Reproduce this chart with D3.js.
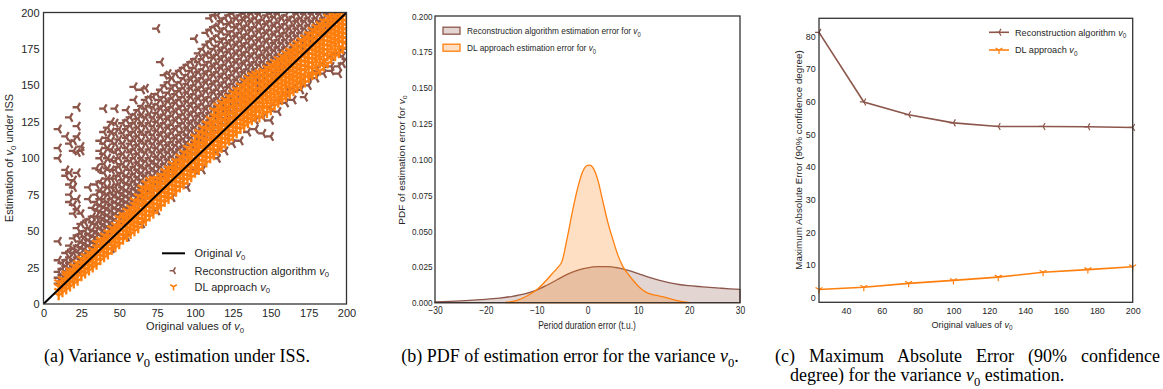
<!DOCTYPE html>
<html>
<head>
<meta charset="utf-8">
<script src="https://cdn.jsdelivr.net/npm/d3@7"></script>
<style>
  body { margin: 0; background: #fff; }
  svg { display: block; }
  text { font-family: "Liberation Sans", Arial, Helvetica, sans-serif; }
</style>
</head>
<body>
<svg id="chart" width="1163" height="389"></svg>
<script>
// ---- data ----

// (a) scatter, grouped by original v0 column: [x, [estimates...]]
const reconCols = [
  [10, [14, 18, 22, 30, 43, 100, 107, 120]],
  [12.5, [16, 20, 24, 28]],
  [15, [18, 22, 26, 30, 35, 88, 92, 115]],
  [17.5, [20, 24, 28, 32, 36, 40, 70, 75, 82, 90, 110, 128]],
  [20, [22, 26, 30, 35, 38, 45, 62, 68, 80, 85, 105, 112]],
  [22.5, [24, 28, 32, 36, 40, 47, 52, 65, 72, 90, 104, 115, 122, 135]],
  [25, [27, 31, 35, 39, 43, 48, 55, 62, 105, 108]],
  [27.5, [30, 34, 38, 42, 46, 50, 56]],
  [30, [32, 36, 40, 44, 48, 52, 58, 72, 80]],
  [32.5, [35, 39, 43, 47, 51, 56, 60, 66]],
  [35, [38, 42, 46, 50, 55, 60, 65, 70, 75, 82, 93]],
  [37.5, [40, 44, 48, 52, 56, 60, 64, 68, 72, 78, 84, 92, 100, 105, 112]],
  [40, [43, 47, 51, 55, 59, 63, 67, 72, 77, 83, 90, 96, 103, 110, 118, 134]],
  [42.5, [45, 49, 53, 57, 61, 66, 70, 75, 80, 86, 93, 100, 107, 114, 121]],
  [45, [38, 48, 52, 56, 60, 64, 68, 72, 76, 80, 86, 92, 99, 106, 112, 118, 125]],
  [47.5, [50, 54, 58, 62, 66, 70, 75, 80, 86, 92, 98, 104, 110, 117, 124, 134]],
  [50, [53, 57, 61, 65, 69, 73, 77, 82, 88, 94, 100, 106, 113, 120]],
  [52.5, [56, 60, 64, 68, 72, 76, 80, 85, 90, 96, 103, 110, 117, 124]],
  [55, [46, 58, 62, 66, 70, 74, 78, 83, 88, 94, 100, 107, 114, 120, 126, 133]],
  [57.5, [61, 65, 69, 73, 77, 82, 87, 92, 98, 104, 110, 116, 122, 128]],
  [60, [63, 67, 71, 75, 79, 84, 89, 94, 100, 106, 112, 118, 124, 130, 140, 149]],
  [62.5, [66, 70, 74, 78, 82, 87, 92, 97, 103, 109, 115, 121, 127, 133]],
  [65, [55, 68, 72, 76, 80, 85, 90, 95, 100, 106, 112, 118, 124, 130, 136, 147]],
  [67.5, [71, 75, 79, 83, 88, 93, 98, 104, 110, 116, 122, 128, 134, 140, 148]],
  [70, [73, 77, 81, 85, 90, 95, 100, 106, 112, 118, 124, 130, 136, 142]],
  [72.5, [76, 80, 84, 88, 93, 98, 104, 110, 116, 122, 128, 135, 142]],
  [75, [64, 78, 82, 86, 91, 96, 101, 107, 113, 119, 125, 131, 137, 144, 189]],
  [77.5, [81, 85, 89, 94, 99, 104, 110, 116, 122, 128, 134, 140, 147, 166]],
  [80, [83, 87, 91, 96, 101, 106, 112, 118, 124, 130, 136, 142, 150, 157]],
  [82.5, [86, 90, 94, 99, 104, 109, 115, 121, 127, 133, 139, 145, 152, 158]],
  [85, [73, 88, 92, 96, 101, 106, 111, 117, 123, 129, 135, 141, 148, 155]],
  [87.5, [91, 95, 99, 104, 109, 114, 120, 126, 132, 138, 144, 150, 158]],
  [90, [93, 97, 101, 106, 111, 116, 122, 128, 134, 140, 146, 152, 160]],
  [92.5, [96, 100, 104, 108, 113, 118, 124, 130, 136, 142, 148, 155, 162]],
  [95, [80, 98, 102, 106, 111, 116, 121, 127, 133, 139, 145, 151, 157, 164]],
  [97.5, [101, 105, 109, 114, 119, 124, 130, 136, 142, 148, 154, 160, 166]],
  [100, [92, 103, 107, 111, 116, 121, 126, 132, 138, 144, 150, 156, 162, 168, 182]],
  [102.5, [106, 110, 114, 119, 124, 129, 135, 141, 147, 153, 159, 166, 172]],
  [105, [92, 108, 112, 116, 121, 126, 131, 137, 143, 149, 155, 161, 168, 175]],
  [107.5, [111, 115, 119, 124, 129, 134, 140, 146, 152, 158, 164, 171, 178, 186]],
  [110, [113, 117, 121, 126, 131, 136, 142, 148, 154, 160, 166, 172, 180, 188, 196]],
  [112.5, [116, 120, 124, 129, 134, 139, 145, 151, 157, 163, 169, 175, 182, 190, 198]],
  [115, [100, 104, 118, 122, 126, 131, 136, 141, 147, 153, 159, 165, 171, 177, 184, 191, 198]],
  [117.5, [121, 125, 129, 134, 139, 144, 150, 156, 162, 168, 174, 180, 187, 194]],
  [120, [105, 123, 127, 131, 136, 141, 146, 152, 158, 164, 170, 176, 182, 189, 196]],
  [122.5, [126, 130, 134, 139, 144, 149, 155, 161, 167, 173, 179, 185, 192, 198]],
  [125, [110, 128, 132, 136, 141, 146, 151, 157, 163, 169, 175, 181, 187, 193, 199]],
  [127.5, [131, 135, 139, 144, 149, 154, 160, 166, 172, 178, 184, 190, 196]],
  [130, [112, 133, 137, 141, 146, 151, 156, 162, 168, 174, 180, 186, 192, 198]],
  [132.5, [136, 140, 144, 149, 154, 159, 165, 171, 177, 183, 189, 195, 199]],
  [135, [118, 138, 142, 146, 151, 156, 161, 167, 173, 179, 185, 191, 197]],
  [137.5, [141, 145, 149, 154, 159, 164, 170, 176, 182, 188, 194, 199]],
  [140, [120, 126, 143, 147, 151, 156, 161, 166, 172, 178, 184, 190, 196]],
  [142.5, [146, 150, 154, 159, 164, 169, 175, 181, 187, 193, 199]],
  [145, [117, 128, 148, 152, 156, 161, 166, 171, 177, 183, 189, 195]],
  [147.5, [151, 155, 159, 164, 169, 174, 180, 186, 192, 198]],
  [150, [115, 126, 135, 153, 157, 161, 166, 171, 176, 182, 188, 194, 199]],
  [152.5, [156, 160, 164, 169, 174, 179, 185, 191, 197]],
  [155, [132, 140, 158, 162, 166, 171, 176, 181, 187, 193, 199]],
  [157.5, [161, 165, 169, 174, 179, 184, 190, 196]],
  [160, [138, 145, 163, 167, 171, 176, 181, 186, 192, 198]],
  [162.5, [166, 170, 174, 179, 184, 189, 195]],
  [165, [140, 148, 168, 172, 176, 181, 186, 191, 197]],
  [167.5, [171, 175, 179, 184, 189, 194, 199]],
  [170, [147, 152, 173, 177, 181, 186, 191, 196]],
  [172.5, [142, 176, 180, 184, 189, 194, 199]],
  [175, [150, 156, 178, 182, 186, 191, 196]],
  [177.5, [181, 185, 189, 194, 199]],
  [180, [155, 160, 183, 187, 191, 196]],
  [182.5, [186, 190, 194, 199]],
  [185, [158, 165, 188, 192, 196]],
  [187.5, [191, 195, 199]],
  [190, [160, 163, 170, 193, 197]],
  [192.5, [196, 199]],
  [195, [158, 163, 172, 198]],
  [197.5, [165, 170]],
  [200, [168, 175]]
];

const dlCols = [
  [10, [6, 9, 12, 15]],
  [12.5, [8, 11, 14, 17]],
  [15, [10, 13, 16, 19, 21]],
  [17.5, [12, 15, 18, 21, 23]],
  [20, [14, 17, 20, 23, 26]],
  [22.5, [16, 19, 22, 25, 28]],
  [25, [19, 22, 25, 28, 31]],
  [27.5, [21, 24, 27, 30, 33]],
  [30, [23, 26, 29, 32, 35]],
  [32.5, [25, 28, 31, 34, 37]],
  [35, [27, 30, 33, 36, 39, 42]],
  [37.5, [30, 33, 36, 39, 42, 44]],
  [40, [32, 35, 38, 41, 44, 47]],
  [42.5, [34, 37, 40, 43, 46, 49]],
  [45, [37, 40, 43, 46, 49, 52]],
  [47.5, [39, 42, 45, 48, 51, 54]],
  [50, [41, 44, 47, 50, 53, 56, 59]],
  [52.5, [44, 47, 50, 53, 56, 59, 61]],
  [55, [46, 49, 52, 55, 58, 61, 64]],
  [57.5, [48, 51, 54, 57, 60, 63, 66]],
  [60, [50, 53, 56, 59, 62, 65, 68, 71]],
  [62.5, [52, 55, 58, 61, 64, 67, 70, 74]],
  [65, [55, 58, 61, 64, 67, 70, 73, 77, 80]],
  [67.5, [57, 60, 63, 66, 69, 72, 75, 79, 83]],
  [70, [60, 63, 66, 69, 72, 75, 78, 81, 85]],
  [72.5, [62, 65, 68, 71, 74, 77, 80, 83, 86]],
  [75, [65, 68, 71, 74, 77, 80, 83, 86]],
  [77.5, [67, 70, 73, 76, 79, 82, 85, 88]],
  [80, [70, 73, 76, 79, 82, 85, 88, 91]],
  [82.5, [72, 75, 78, 81, 84, 87, 90, 93]],
  [85, [75, 78, 81, 84, 87, 90, 93, 96]],
  [87.5, [77, 80, 83, 86, 89, 92, 95, 98]],
  [90, [80, 83, 86, 89, 92, 95, 98, 101]],
  [92.5, [82, 85, 88, 91, 94, 97, 100, 104]],
  [95, [85, 88, 91, 94, 97, 100, 103, 107]],
  [97.5, [87, 90, 93, 96, 99, 102, 105, 109]],
  [100, [90, 93, 96, 99, 102, 105, 108, 111, 115]],
  [102.5, [92, 95, 98, 101, 104, 107, 110, 114, 118]],
  [105, [95, 98, 101, 104, 107, 110, 113, 117, 121]],
  [107.5, [97, 100, 103, 106, 109, 112, 116, 120, 124]],
  [110, [100, 103, 106, 109, 112, 115, 119, 123, 127]],
  [112.5, [102, 105, 108, 111, 114, 117, 121, 125, 129, 133]],
  [115, [105, 108, 111, 114, 117, 120, 124, 128, 132, 136]],
  [117.5, [107, 110, 113, 116, 119, 122, 126, 130, 134, 138]],
  [120, [110, 113, 116, 119, 122, 125, 129, 133, 137, 140]],
  [122.5, [112, 115, 118, 121, 124, 127, 131, 135, 139, 142]],
  [125, [115, 118, 121, 124, 127, 130, 134, 138, 142, 145]],
  [127.5, [117, 120, 123, 126, 129, 132, 136, 140, 144, 147]],
  [130, [120, 123, 126, 129, 132, 135, 139, 143, 147, 150]],
  [132.5, [122, 125, 128, 131, 134, 137, 141, 145, 149, 153]],
  [135, [124, 127, 130, 133, 136, 139, 143, 147, 151, 155]],
  [137.5, [126, 129, 132, 135, 138, 141, 145, 149, 153, 157]],
  [140, [128, 131, 134, 137, 140, 143, 147, 151, 155, 158]],
  [142.5, [128, 132, 135, 138, 141, 144, 147, 151, 155, 159]],
  [145, [130, 134, 137, 140, 143, 146, 149, 153, 157, 160]],
  [147.5, [131, 135, 139, 142, 145, 148, 151, 155, 159, 162]],
  [150, [133, 137, 141, 144, 147, 150, 153, 157, 161, 164]],
  [152.5, [136, 139, 143, 146, 149, 152, 155, 159, 163, 166]],
  [155, [138, 141, 145, 148, 151, 154, 157, 161, 165, 168]],
  [157.5, [140, 143, 147, 150, 153, 156, 159, 163, 167, 170]],
  [160, [142, 145, 149, 152, 155, 158, 161, 165, 169, 172]],
  [162.5, [144, 148, 151, 154, 157, 160, 163, 167, 171, 174]],
  [165, [146, 150, 153, 156, 159, 162, 165, 169, 173, 177]],
  [167.5, [148, 152, 155, 158, 161, 164, 167, 171, 175, 179]],
  [170, [150, 154, 157, 160, 163, 166, 169, 173, 177, 181]],
  [172.5, [152, 156, 160, 163, 166, 169, 172, 176, 180, 183]],
  [175, [155, 158, 162, 165, 168, 171, 174, 178, 182, 185]],
  [177.5, [157, 161, 165, 168, 171, 174, 177, 181, 185, 188]],
  [180, [158, 163, 167, 170, 173, 176, 179, 183, 187, 190]],
  [182.5, [160, 165, 169, 172, 175, 178, 181, 185, 189, 192]],
  [185, [163, 167, 171, 174, 177, 180, 183, 187, 191, 194]],
  [187.5, [165, 170, 174, 177, 180, 183, 186, 190, 194, 197]],
  [190, [168, 172, 176, 179, 182, 185, 188, 192, 196, 199]],
  [192.5, [170, 174, 178, 181, 184, 187, 190, 194, 198]],
  [195, [172, 176, 180, 183, 186, 189, 192, 196, 199]],
  [197.5, [175, 179, 182, 185, 188, 191, 194, 197, 200]],
  [200, [178, 182, 185, 188, 191, 194, 197, 200]]
];
const identityX = [0, 200];
const ticksA = [0, 25, 50, 75, 100, 125, 150, 175, 200];

// (b) estimated densities of the error
const kdeReconX = [-30, -27, -24, -21, -18, -15, -12, -10, -8, -6, -4, -2, 0, 2, 4, 6, 8, 10, 12, 14, 16, 18, 20, 22, 24, 26, 28, 30];
const kdeReconY = [0.0006, 0.0009, 0.0014, 0.0021, 0.003, 0.0043, 0.0065, 0.0088, 0.0122, 0.016, 0.0197, 0.0225, 0.0243, 0.0251, 0.0252, 0.0243, 0.0226, 0.0203, 0.0178, 0.0157, 0.014, 0.0127, 0.0119, 0.0113, 0.0107, 0.0102, 0.0097, 0.0093];
const kdeDlX = [-16, -14, -12, -10, -8, -7, -6, -5, -4, -3, -2, -1, 0, 0.5, 1, 2, 3, 4, 5, 6, 7, 8, 9, 10, 11, 12, 13, 14, 15, 16, 17, 18, 19, 20];
const kdeDlY = [0.0003, 0.0015, 0.0045, 0.009, 0.016, 0.02, 0.024, 0.029, 0.045, 0.063, 0.079, 0.091, 0.0958, 0.096, 0.0945, 0.086, 0.071, 0.056, 0.044, 0.033, 0.025, 0.02, 0.0155, 0.0115, 0.0085, 0.0065, 0.0055, 0.0048, 0.004, 0.003, 0.002, 0.0012, 0.0005, 0.0001];
const ticksBx = [-30, -20, -10, 0, 10, 20, 30];
const ticksBy = [0, 0.025, 0.05, 0.075, 0.1, 0.125, 0.15, 0.175, 0.2];

// (c) maximum absolute error
const maeX = [25, 50, 75, 100, 125, 150, 175, 200];
const maeRecon = [81.1, 59.8, 55.9, 53.4, 52.3, 52.3, 52.2, 52.0];
const maeDl = [2.4, 3.1, 4.3, 5.2, 6.2, 7.7, 8.5, 9.4];
const ticksCx = [40, 60, 80, 100, 120, 140, 160, 180, 200];
const ticksCy = [0, 10, 20, 30, 40, 50, 60, 70, 80];

const BROWN = "#8c564b";
const ORANGE = "#ff7f0e";
const TXT = "#262626";

const svg = d3.select("#chart");

// matplotlib tri markers
function triLeft(r) {
  const a = r * 0.5, b = r * 0.866;
  return `M0,0L${-r},0M0,0L${a},${-b}M0,0L${a},${b}`;
}
function triDown(r) {
  const a = r * 0.866, b = r * 0.5;
  return `M0,0L0,${r}M0,0L${-a},${-b}M0,0L${a},${-b}`;
}

// "v0" with italic v and subscript 0
function addV0(t, before, after, fs) {
  t.append("tspan").text(before);
  t.append("tspan").attr("font-style", "italic").text("v");
  t.append("tspan").attr("font-size", fs * 0.7).attr("dy", fs * 0.25).text("0");
  if (after) t.append("tspan").attr("dy", -fs * 0.25).text(after);
}

function frame(g, x, y) {
  g.append("rect")
    .attr("x", x.range()[0]).attr("y", y.range()[1])
    .attr("width", x.range()[1] - x.range()[0])
    .attr("height", y.range()[0] - y.range()[1])
    .attr("fill", "none").attr("stroke", "#333").attr("stroke-width", 1.3);
}

function styleAxis(ax, fs, sx) {
  ax.select(".domain").remove();
  ax.selectAll("text").attr("fill", TXT).style("font-size", fs + "px")
    .style("font-family", '"Liberation Sans", Arial, sans-serif');
  if (sx) ax.selectAll("text").attr("transform", `scale(${sx},1)`);
}

// ================= (a) =================
{
  const x = d3.scaleLinear().domain([0, 200]).range([43.5, 346.5]);
  const y = d3.scaleLinear().domain([0, 200]).range([304, 12.5]);
  const g = svg.append("g");
  svg.append("clipPath").attr("id", "clipA").append("rect")
    .attr("x", 43.5).attr("y", 12.5).attr("width", 303).attr("height", 291.5);
  const pts = g.append("g").attr("clip-path", "url(#clipA)");

  const reconPts = reconCols.flatMap(([cx, ys]) => ys.map(v => [cx, v]));
  const dlPts = dlCols.flatMap(([cx, ys]) => ys.map(v => [cx, v]));

  pts.selectAll("path.rec").data(reconPts).join("path").attr("class", "rec")
    .attr("d", triLeft(5))
    .attr("transform", d => `translate(${x(d[0])},${y(d[1])})`)
    .attr("stroke", BROWN).attr("stroke-width", 2.3).attr("fill", "none");
  pts.selectAll("path.dl").data(dlPts).join("path").attr("class", "dl")
    .attr("d", triDown(5))
    .attr("transform", d => `translate(${x(d[0])},${y(d[1])})`)
    .attr("stroke", ORANGE).attr("stroke-width", 2.3).attr("fill", "none");
  pts.append("line")
    .attr("x1", x(identityX[0])).attr("y1", y(identityX[0]))
    .attr("x2", x(identityX[1])).attr("y2", y(identityX[1]))
    .attr("stroke", "#000").attr("stroke-width", 2);

  frame(g, x, y);
  g.append("g").attr("transform", "translate(0,304)")
    .call(d3.axisBottom(x).tickValues(ticksA).tickSize(0).tickPadding(5))
    .call(ax => styleAxis(ax, 11));
  g.append("g").attr("transform", "translate(43.5,0)")
    .call(d3.axisLeft(y).tickValues(ticksA).tickSize(0).tickPadding(4))
    .call(ax => styleAxis(ax, 11));

  addV0(g.append("text").attr("x", 195).attr("y", 330).attr("text-anchor", "middle")
    .attr("font-size", 11).attr("fill", TXT), "Original values of ", null, 11);
  addV0(g.append("text").attr("transform", "translate(13,158) rotate(-90)").attr("text-anchor", "middle")
    .attr("font-size", 11).attr("fill", TXT), "Estimation of ", " under ISS", 11);

  // legend
  const lg = g.append("g");
  lg.append("line").attr("x1", 162).attr("x2", 185).attr("y1", 253.3).attr("y2", 253.3)
    .attr("stroke", "#000").attr("stroke-width", 2);
  lg.append("path").attr("d", triLeft(3.8)).attr("transform", "translate(173.5,270.7)")
    .attr("stroke", BROWN).attr("stroke-width", 1.6).attr("fill", "none");
  lg.append("path").attr("d", triDown(3.8)).attr("transform", "translate(173.5,286.7)")
    .attr("stroke", ORANGE).attr("stroke-width", 1.6).attr("fill", "none");
  [["Original ", 253.3], ["Reconstruction algorithm ", 270.7], ["DL approach ", 286.7]].forEach(([s, yy]) => {
    addV0(lg.append("text").attr("x", 194.5).attr("y", yy + 4).attr("font-size", 11).attr("fill", TXT), s, null, 11);
  });
}

// ================= (b) =================
{
  const sx = 0.85;
  const x = d3.scaleLinear().domain([-30, 30]).range([435, 740]);
  const y = d3.scaleLinear().domain([0, 0.2]).range([302.7, 16]);
  const g = svg.append("g");
  const area = d3.area().x(d => x(d[0])).y0(y(0)).y1(d => y(d[1])).curve(d3.curveMonotoneX);

  const rec = kdeReconX.map((v, i) => [v, kdeReconY[i]]);
  const dl = kdeDlX.map((v, i) => [v, kdeDlY[i]]);
  g.append("path").attr("d", area(rec)).attr("fill", BROWN).attr("fill-opacity", 0.25)
    .attr("stroke", BROWN).attr("stroke-width", 1.3);
  g.append("path").attr("d", area(dl)).attr("fill", ORANGE).attr("fill-opacity", 0.25)
    .attr("stroke", ORANGE).attr("stroke-width", 1.3);

  frame(g, x, y);
  g.append("g").attr("transform", "translate(0,302.7)")
    .call(d3.axisBottom(x).tickValues(ticksBx).tickSize(0).tickPadding(4))
    .call(ax => styleAxis(ax, 10, sx));
  g.append("g").attr("transform", "translate(435,0)")
    .call(d3.axisLeft(y).tickValues(ticksBy).tickFormat(d3.format(".3f")).tickSize(0).tickPadding(3))
    .call(ax => styleAxis(ax, 9.6, sx));

  g.append("text").attr("transform", `translate(587,328.5) scale(${sx},1)`).attr("text-anchor", "middle")
    .attr("font-size", 10).attr("fill", TXT).text("Period duration error (t.u.)");
  addV0(g.append("text").attr("transform", `translate(404.5,160) scale(${sx},1) rotate(-90)`).attr("text-anchor", "middle")
    .attr("font-size", 10).attr("fill", TXT), "PDF of estimation error for ", null, 10);

  const lg = g.append("g");
  [[BROWN, 30.7, "Reconstruction algorithm estimation error for "], [ORANGE, 47.7, "DL approach estimation error for "]].forEach(([c, yy, s]) => {
    lg.append("rect").attr("x", 443).attr("y", yy - 3.5).attr("width", 17).attr("height", 7)
      .attr("fill", c).attr("fill-opacity", 0.25).attr("stroke", c).attr("stroke-width", 1.3);
    addV0(lg.append("text").attr("transform", `translate(467,${yy + 3.4}) scale(${sx},1)`)
      .attr("font-size", 9.8).attr("fill", TXT), s, null, 9.8);
  });
}

// ================= (c) =================
{
  const sx = 0.93;
  const x = d3.scaleLinear().domain([25, 200]).range([819, 1132.7]);
  const y = d3.scaleLinear().domain([-1.5, 85.4]).range([302.3, 18.3]);
  const g = svg.append("g");
  const line = d3.line().x(d => x(d[0])).y(d => y(d[1]));
  const rec = maeX.map((v, i) => [v, maeRecon[i]]);
  const dl = maeX.map((v, i) => [v, maeDl[i]]);

  [[rec, BROWN, triLeft], [dl, ORANGE, triDown]].forEach(([data, c, mk]) => {
    g.append("path").attr("d", line(data)).attr("fill", "none").attr("stroke", c).attr("stroke-width", 1.6);
    g.selectAll(null).data(data).join("path").attr("d", mk(4))
      .attr("transform", d => `translate(${x(d[0])},${y(d[1])})`)
      .attr("stroke", c).attr("stroke-width", 1.2).attr("fill", "none");
  });

  frame(g, x, y);
  g.append("g").attr("transform", "translate(0,302.3)")
    .call(d3.axisBottom(x).tickValues(ticksCx).tickSize(0).tickPadding(5))
    .call(ax => styleAxis(ax, 9.6, sx));
  g.append("g").attr("transform", "translate(819,0)")
    .call(d3.axisLeft(y).tickValues(ticksCy).tickSize(0).tickPadding(3.5))
    .call(ax => styleAxis(ax, 9.6, sx));

  addV0(g.append("text").attr("transform", `translate(972,327.5) scale(${sx},1)`).attr("text-anchor", "middle")
    .attr("font-size", 9.8).attr("fill", TXT), "Original values of ", null, 9.8);
  g.append("text").attr("transform", `translate(802,160) scale(${sx},1) rotate(-90)`).attr("text-anchor", "middle")
    .attr("font-size", 9.8).attr("fill", TXT).text("Maximum Absolute Error (90% confidence degree)");

  const lg = g.append("g");
  [[BROWN, 32.3, "Reconstruction algorithm ", triLeft], [ORANGE, 50, "DL approach ", triDown]].forEach(([c, yy, s, mk]) => {
    lg.append("line").attr("x1", 989).attr("x2", 1009).attr("y1", yy).attr("y2", yy)
      .attr("stroke", c).attr("stroke-width", 1.6);
    lg.append("path").attr("d", mk(4)).attr("transform", `translate(999,${yy})`)
      .attr("stroke", c).attr("stroke-width", 1.2).attr("fill", "none");
    addV0(lg.append("text").attr("transform", `translate(1015,${yy + 3.4}) scale(${sx},1)`)
      .attr("font-size", 9.8).attr("fill", TXT), s, null, 9.8);
  });
}

// ================= captions =================
{
  const FS = 18;
  const cap = svg.append("g").attr("font-size", FS).attr("fill", "#000");
  const serif = '"Liberation Serif", "Times New Roman", Times, serif';
  function capText(x0, y0, before, after, anchor) {
    const t = cap.append("text").attr("x", x0).attr("y", y0).attr("text-anchor", anchor)
      .style("font-family", serif);
    if (after === null) t.text(before);
    else addV0(t, before, after, FS);
    return t;
  }
  capText(177, 362, "(a) Variance ", " estimation under ISS.", "middle");
  capText(570, 362, "(b) PDF of estimation error for the variance ", ".", "middle");
  // first line of (c) is justified across the sub-figure width
  const c1 = capText(775, 362, "(c) Maximum Absolute Error (90% confidence", null, "start");
  const extra = (1160 - 775 - c1.node().getBBox().width) / 5;
  c1.style("word-spacing", Math.max(0, extra) + "px");
  capText(790, 381, "degree) for the variance ", " estimation.", "start");
}
</script>
</body>
</html>
